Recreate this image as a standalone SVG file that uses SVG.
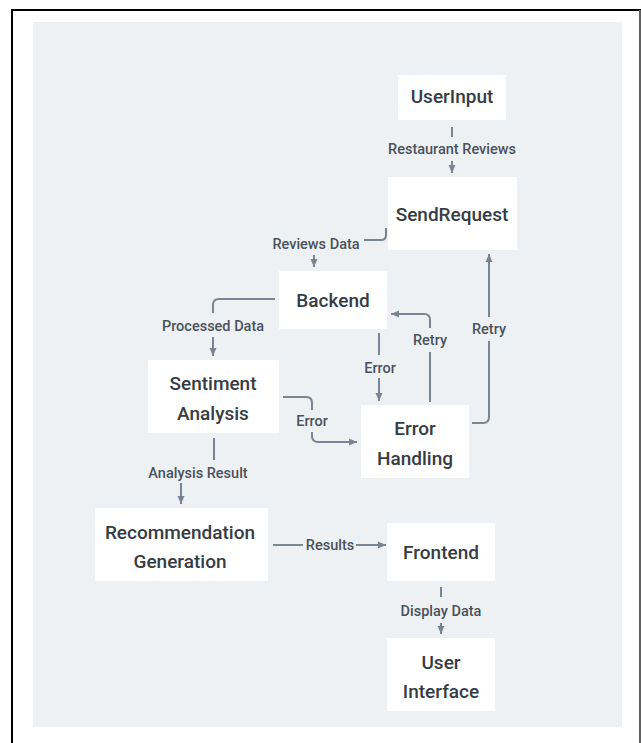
<svg xmlns="http://www.w3.org/2000/svg" width="641" height="743" viewBox="0 0 641 743">
<style>
.node rect{fill:#ffffff}
.node text{font-family:Roboto,"Liberation Sans",sans-serif;font-size:19px;font-weight:500;fill:#363c43;text-anchor:middle}
.lbl{font-family:Roboto,"Liberation Sans",sans-serif;font-size:14.5px;font-weight:500;fill:#4a525c;text-anchor:middle}
.edge{fill:none;stroke:#7a8593;stroke-width:2}
</style>
<defs>
<marker id="ah" viewBox="0 0 8 8" refX="8" refY="4" markerWidth="8" markerHeight="8" markerUnits="userSpaceOnUse" orient="auto">
<path d="M0,0.5 L8,4 L0,7.5 Z" fill="#7a8593"/>
</marker>
</defs>
<rect x="0" y="0" width="641" height="743" fill="#ffffff"/>
<path d="M12,760 V10 H640 V760" fill="none" stroke="#000000" stroke-width="2"/>
<line x1="640" y1="10" x2="640" y2="743" stroke="#808080" stroke-width="1.5"/>
<rect x="33" y="22" width="589" height="705" fill="#eef1f4"/>

<g id="connectors">
<g id="e1"><path class="edge" d="M452,127 V137"/><text class="lbl" x="452" y="154">Restaurant Reviews</text><path class="edge" d="M452,161 V173" marker-end="url(#ah)"/></g>
<g id="e2"><path class="edge" d="M386,228 V235 Q386,240 381,240 H364"/><text class="lbl" x="316" y="249">Reviews Data</text><path class="edge" d="M314,255 V267" marker-end="url(#ah)"/></g>
<g id="e3"><path class="edge" d="M275,299 H219 Q213,299 213,305 V313"/><text class="lbl" x="213" y="331">Processed Data</text><path class="edge" d="M213,337 V356" marker-end="url(#ah)"/></g>
<g id="e4"><path class="edge" d="M379,333 V355"/><text class="lbl" x="380" y="373">Error</text><path class="edge" d="M379,378 V401" marker-end="url(#ah)"/></g>
<g id="e5"><path class="edge" d="M283,397 H306 Q312,397 312,403 V410"/><text class="lbl" x="312" y="426">Error</text><path class="edge" d="M312,432 V436 Q312,442 318,442 H357" marker-end="url(#ah)"/></g>
<g id="e6"><path class="edge" d="M430,402 V352"/><text class="lbl" x="430" y="345">Retry</text><path class="edge" d="M430,328 V320 Q430,314 424,314 H391" marker-end="url(#ah)"/></g>
<g id="e7"><path class="edge" d="M472,423 H483 Q489,423 489,417 V341"/><text class="lbl" x="489" y="334">Retry</text><path class="edge" d="M489,317 V254" marker-end="url(#ah)"/></g>
<g id="e8"><path class="edge" d="M214,438 V460"/><text class="lbl" x="198" y="478">Analysis Result</text><path class="edge" d="M181,483 V504" marker-end="url(#ah)"/></g>
<g id="e9"><path class="edge" d="M273,545 H303"/><text class="lbl" x="330" y="550">Results</text><path class="edge" d="M356,545 H386" marker-end="url(#ah)"/></g>
<g id="e10"><path class="edge" d="M441,587 V597"/><text class="lbl" x="441" y="616">Display Data</text><path class="edge" d="M441,623 V634" marker-end="url(#ah)"/></g>
</g>

<g id="UserInput" class="node"><rect x="398" y="75" width="108" height="45"/><text x="452" y="103">UserInput</text></g>
<g id="SendRequest" class="node"><rect x="388" y="177" width="129" height="73"/><text x="452" y="221">SendRequest</text></g>
<g id="Backend" class="node"><rect x="279" y="271" width="108" height="58"/><text x="333" y="307">Backend</text></g>
<g id="SentimentAnalysis" class="node"><rect x="148" y="360" width="131" height="73"/><text x="213" y="390">Sentiment</text><text x="213" y="420">Analysis</text></g>
<g id="ErrorHandling" class="node"><rect x="361" y="405" width="108" height="73"/><text x="415" y="435">Error</text><text x="415" y="465">Handling</text></g>
<g id="RecommendationGeneration" class="node"><rect x="95" y="508" width="173" height="73"/><text x="180" y="539">Recommendation</text><text x="180" y="568">Generation</text></g>
<g id="Frontend" class="node"><rect x="387" y="523" width="108" height="58"/><text x="441" y="559">Frontend</text></g>
<g id="UserInterface" class="node"><rect x="387" y="638" width="108" height="73"/><text x="441" y="669">User</text><text x="441" y="698">Interface</text></g>
</svg>
